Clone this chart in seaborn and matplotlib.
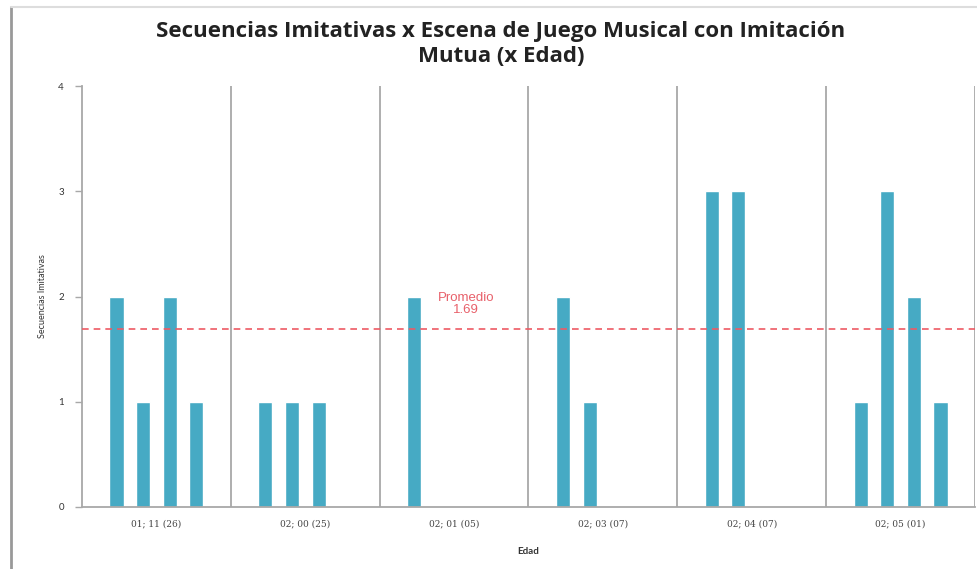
import pandas as pd
import numpy as np
import matplotlib
matplotlib.use('Agg')
import matplotlib.pyplot as plt
import seaborn as sns
from matplotlib.lines import Line2D

# Data
edades = ['01; 11 (26)', '02; 00 (25)', '02; 01 (05)', '02; 03 (07)', '02; 04 (07)', '02; 05 (01)']
sesion_1 = [2, 1, 2, 2, 3, 1]
sesion_2 = [1, 1, 0, 1, 3, 3]
sesion_3 = [2, 1, 0, 0, 0, 2]
sesion_4 = [1, 0, 0, 0, 0, 1]

rows = []
for i, edad in enumerate(edades):
    for s, vals in enumerate([sesion_1, sesion_2, sesion_3, sesion_4]):
        rows.append({'Edad': edad, 'Sesion': s + 1, 'Secuencias': vals[i]})
df = pd.DataFrame(rows)

# Promedio over the scenes that actually appear (non-zero bars)
promedio = df.loc[df['Secuencias'] > 0, 'Secuencias'].mean()

sns.set_style('white')
plt.rcParams['font.family'] = ['Lato', 'DejaVu Sans']

fig = plt.figure(figsize=(9.77, 5.69), dpi=100)
ax = fig.add_axes([82 / 977, 1 - 507 / 569, (975 - 82) / 977, (507 - 86) / 569])

bar_color = '#46aac4'
sns.barplot(data=df, x='Edad', y='Secuencias', hue='Sesion', order=edades,
            palette=[bar_color] * 4, width=0.715, gap=0.47, legend=False,
            saturation=1, ax=ax)

ax.set_xlim(-0.5, len(edades) - 0.5)
ax.set_ylim(0, 4)
ax.set_yticks([0, 1, 2, 3, 4])

# group separators
for b in np.arange(0.5, len(edades), 1.0):
    ax.axvline(b, color='#a8a8a8', lw=1.3, zorder=0)

# average line
ax.axhline(promedio, color='#ee5a64', lw=1.2, ls=(0, (4, 3)), zorder=3)
ax.text(2.08, 1.93, f'Promedio\n{promedio:.2f}', color='#e8606a', fontsize=9.5,
        ha='center', va='center', family=['Liberation Sans', 'DejaVu Sans'],
        linespacing=1.05)

for side in ['top', 'right']:
    ax.spines[side].set_visible(False)
for side in ['left', 'bottom']:
    ax.spines[side].set_color('#a8a8a8')
    ax.spines[side].set_linewidth(1.3)

ax.tick_params(axis='y', direction='out', length=5, width=1, color='#a8a8a8',
               labelsize=7, labelcolor='#333333', pad=8, left=True)
ax.tick_params(axis='x', length=0, labelsize=6.5, labelcolor='#444444', pad=9)
for lbl in ax.get_xticklabels():
    lbl.set_family(['DejaVu Serif'])

ax.set_xlabel('Edad', fontsize=7, fontweight='bold', color='#333333', labelpad=13)
ax.set_ylabel('Secuencias Imitativas', fontsize=6.5, color='#333333', labelpad=8)

fig.text(501 / 977, 1 - 44 / 569,
         'Secuencias Imitativas x Escena de Juego Musical con Imitación\nMutua (x Edad)',
         ha='center', va='center', fontsize=16, fontweight='bold', color='#222222',
         linespacing=1.3, family=['Open Sans', 'DejaVu Sans'])

# page border like the source screenshot
fig.add_artist(Line2D([11 / 977, 11 / 977], [0, 1 - 7 / 569], color='#999999', lw=2))
fig.add_artist(Line2D([11 / 977, 1], [1 - 7 / 569, 1 - 7 / 569], color='#dddddd', lw=1.5))

plt.savefig('out.png', dpi=100)
plt.close()
